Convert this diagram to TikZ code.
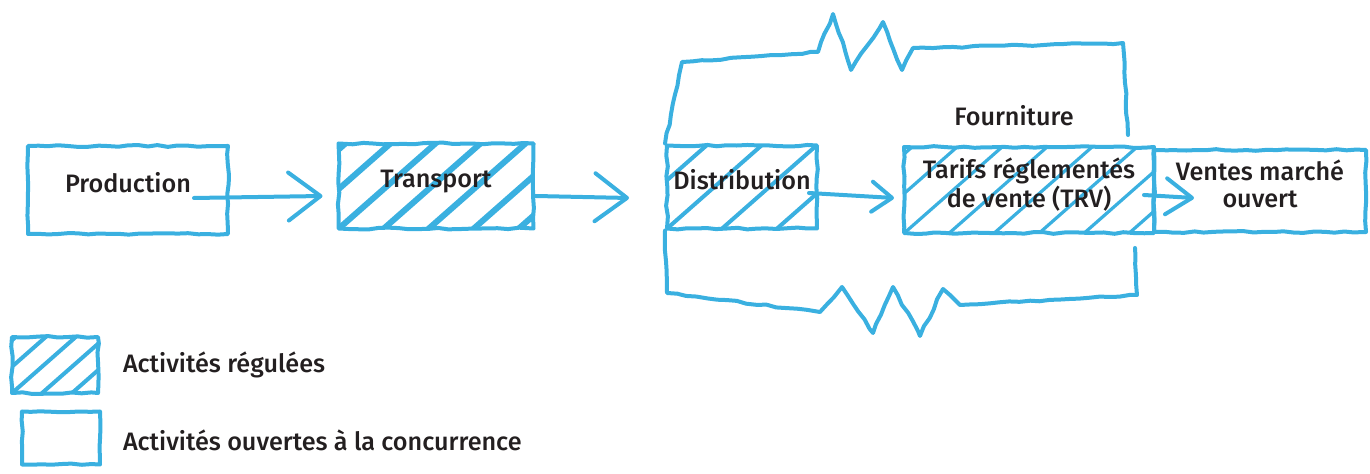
\documentclass[tikz,border=0pt]{standalone}
\usepackage{fontspec}
\setmainfont{Fira Sans}[UprightFont=* Medium]
\usetikzlibrary{arrows.meta, calc, decorations.pathmorphing}
\definecolor{ink}{RGB}{58,176,224}
\definecolor{txt}{RGB}{35,31,32}
\pgfmathsetseed{7}

\begin{document}
\begin{tikzpicture}[x=0.5pt, y=-0.5pt, line width=2pt, line join=round, line cap=round,
  font=\fontsize{12.6}{13.2}\selectfont,
  sketch/.style={decorate, decoration={random steps, segment length=5pt, amplitude=.45pt}},
  box/.style={draw=ink, sketch, text=txt, inner sep=0pt, align=center, text depth=7.5pt},
  hatch/.style 2 args={path picture={\foreach \k in {-4,...,10}
      \draw[ink, line width=#1] ($(path picture bounding box.south west)+(\k*#2,0)$) -- ++(125,-110);}},
  arr/.style 2 args={draw=ink, -{Straight Barb[round, length=#1, width=#2]}},
  lbl/.style={text=txt, inner sep=0pt}]
\useasboundingbox (0,0) rectangle (1370,474);

% chain of activities
\node[box, minimum width=100pt, minimum height=44pt] (prod) at (128,190) {Production};
\node[box, hatch={3pt}{45}, minimum width=97.5pt, minimum height=42.5pt] (trans) at (436,186) {Transport};
\node[box, hatch={2pt}{55}, minimum width=75pt, minimum height=41.5pt] (dist) at (742,187) {Distribution};
\node[box, hatch={1.6pt}{45}, minimum width=125pt, minimum height=43pt] (trv) at (1029,190) {Tarifs réglementés\\de vente (TRV)};
\node[box, minimum width=106pt, minimum height=41pt] (vente) at (1260,191) {Ventes marché\\ouvert};
\node[lbl] (four) at (1014,116) {Fourniture};

\draw[arr={16pt}{24pt}] ($(prod.east)+(-36,8)$) -- ($(trans.west)+(-14,10)$);
\draw[arr={16pt}{24pt}] ($(trans.east)+(0,10)$) -- ($(dist.west)+(-36,11)$);
\draw[arr={10pt}{15pt}] ($(dist.east)+(-10,6)$) -- ($(trv.west)+(-8,8)$);
\draw[arr={13pt}{18pt}] ($(trv.east)+(-12,5)$) -- ($(vente.west)+(42,7)$);

% supply brackets
\draw[sketch, ink] (dist.north west) -- (682,62) -- (818,52) -- (833,14) -- (851,70) -- (883,22)
  -- (902,70) -- (913,48) -- (1123,43) -- (1128,135);
\draw[sketch, ink] (dist.south west) -- (667,293) -- (820,312) -- (842,287) -- (873,333) -- (893,287)
  -- (920,336) -- (943,289) -- (960,305) -- (1137,295) -- (1135,248);

% legend
\node[box, hatch={2pt}{30}, minimum width=43pt, minimum height=28pt] (legreg) at (55,365) {};
\node[box, minimum width=39pt, minimum height=26.5pt] (legopen) at (61,438) {};
\node[lbl, anchor=west] (txtreg) at (121,365) {Activités régulées};
\node[lbl, anchor=west] (txtopen) at (121,440) {Activités ouvertes à la concurrence};
\end{tikzpicture}
\end{document}
